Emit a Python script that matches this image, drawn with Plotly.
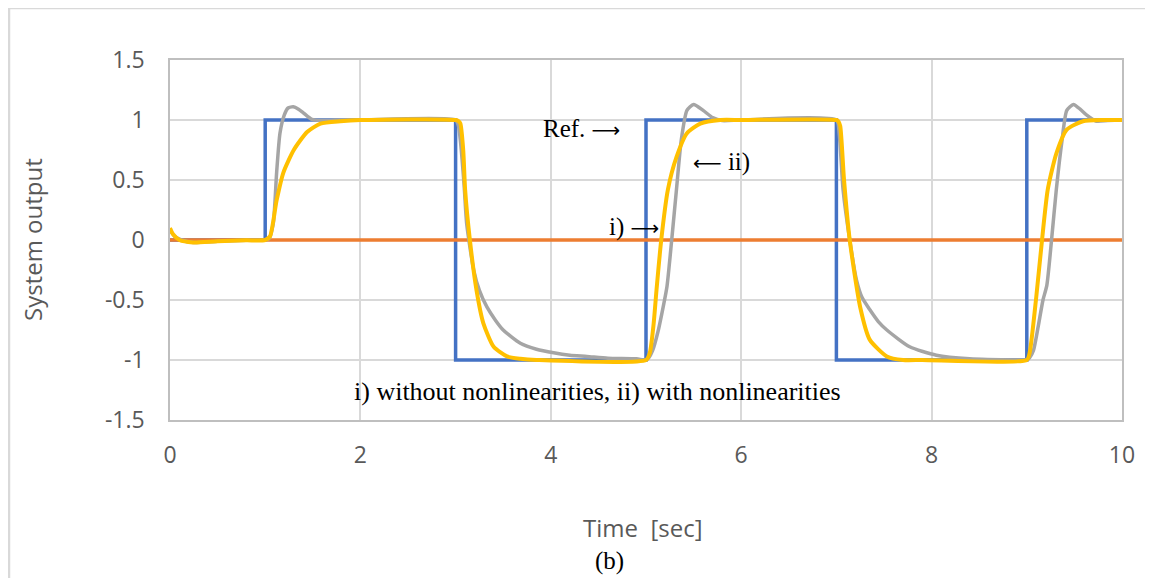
import plotly.graph_objects as go

# Reference square wave
t_ref = [0, 1, 1, 3, 3, 5, 5, 7, 7, 9, 9, 10]
y_ref = [0, 0, 1, 1, -1, -1, 1, 1, -1, -1, 1, 1]

# i) without nonlinearities
t_lin = [0, 10]
y_lin = [0, 0]

# gray response
t_gray = [0, 0.05, 0.12, 0.25, 0.5, 0.8, 1.0, 1.04, 1.085, 1.12, 1.155, 1.2, 1.24, 1.295, 1.35, 1.40, 1.49, 1.6, 1.8, 2.0,
          3.0, 3.03, 3.05, 3.09, 3.116, 3.19, 3.25, 3.33, 3.42, 3.50, 3.68, 3.85, 4.03, 4.2, 4.38, 4.6, 4.9, 5.0,
          5.03, 5.07, 5.13, 5.18, 5.22, 5.27, 5.32, 5.37, 5.43, 5.50, 5.60, 5.70, 5.8, 6.0,
          7.0, 7.03, 7.07, 7.14, 7.21, 7.27, 7.35, 7.44, 7.53, 7.77, 8.05, 8.40, 8.93, 9.0,
          9.03, 9.07, 9.12, 9.17, 9.21, 9.26, 9.31, 9.37, 9.42, 9.49, 9.56, 9.63, 9.73, 9.85, 10.0]
y_gray = [0.08, 0.03, 0.0, -0.02, -0.01, -0.003, 0.0, 0.01, 0.14, 0.56, 0.89, 1.04, 1.10, 1.11, 1.09, 1.06, 1.005, 0.995, 1.0, 1.0,
          1.0, 0.95, 0.83, 0.45, 0.14, -0.25, -0.42, -0.56, -0.67, -0.75, -0.86, -0.91, -0.94, -0.96, -0.97, -0.985, -0.99, -1.0,
          -0.98, -0.92, -0.75, -0.56, -0.39, 0.0, 0.42, 0.83, 1.08, 1.13, 1.08, 1.02, 0.995, 1.0,
          1.0, 0.88, 0.42, 0.0, -0.33, -0.48, -0.58, -0.68, -0.75, -0.89, -0.96, -0.99, -1.0, -1.0,
          -0.98, -0.92, -0.72, -0.50, -0.38, 0.0, 0.42, 0.83, 1.08, 1.13, 1.09, 1.04, 0.99, 0.995, 1.0]

# yellow response
t_yel = [0, 0.03, 0.1, 0.24, 0.5, 0.8, 1.0, 1.05, 1.12, 1.19, 1.30, 1.44, 1.58, 1.79, 2.0,
         3.0, 3.03, 3.05, 3.08, 3.10, 3.15, 3.22, 3.29, 3.40, 3.54, 3.68, 3.85,
         5.0, 5.04, 5.08, 5.11, 5.16, 5.23, 5.32, 5.43, 5.57, 5.78, 6.0,
         7.0, 7.02, 7.04, 7.08, 7.14, 7.25, 7.35, 7.53, 7.70, 7.9,
         9.0, 9.03, 9.10, 9.16, 9.22, 9.31, 9.42, 9.59, 9.8, 10.0]
y_yel = [0.1, 0.05, 0.0, -0.02, -0.01, -0.003, 0.0, 0.03, 0.33, 0.56, 0.75, 0.9, 0.97, 0.99, 1.0,
         1.0, 0.99, 0.97, 0.75, 0.42, 0.0, -0.42, -0.69, -0.89, -0.97, -0.99, -1.0,
         -1.0, -0.94, -0.7, -0.42, 0.0, 0.42, 0.69, 0.89, 0.97, 1.0, 1.0,
         1.0, 0.99, 0.95, 0.5, 0.0, -0.56, -0.83, -0.97, -1.0, -1.0,
         -1.0, -0.94, -0.47, 0.0, 0.42, 0.72, 0.92, 0.99, 1.0, 1.0]

x_ticks = [0, 2, 4, 6, 8, 10]
y_ticks = [-1.5, -1, -0.5, 0, 0.5, 1, 1.5]
y_tick_text = ["-1.5", "-1", "-0.5", "0", "0.5", "1", "1.5"]

fig = go.Figure()
fig.add_trace(go.Scatter(x=t_ref, y=y_ref, mode="lines", line=dict(color="#4472C4", width=3.5)))
fig.add_trace(go.Scatter(x=t_lin, y=y_lin, mode="lines", line=dict(color="#ED7D31", width=3.5)))
fig.add_trace(go.Scatter(x=t_gray, y=y_gray, mode="lines", line=dict(color="#A5A5A5", width=3.5, shape="spline", smoothing=0.6)))
fig.add_trace(go.Scatter(x=t_yel, y=y_yel, mode="lines", line=dict(color="#FFC000", width=4, shape="spline", smoothing=0.6)))

sans = "Open Sans, Noto Sans, sans-serif"
tick_font = dict(family=sans, size=23, color="#595959")
L, T, PW, PH = 162, 52, 952, 360
fig.update_layout(
    width=1153, height=578,
    margin=dict(l=L, r=1153 - L - PW, t=T, b=578 - T - PH),
    paper_bgcolor="white", plot_bgcolor="white",
    showlegend=False,
    xaxis=dict(range=[0, 10], tickvals=x_ticks, showgrid=True, gridcolor="#D9D9D9", gridwidth=1.5,
               zeroline=False, showline=True, linecolor="#BFBFBF", linewidth=1.5, mirror=True,
               ticks="", tickfont=tick_font, ticklabelstandoff=14),
    yaxis=dict(range=[-1.5, 1.5], tickvals=y_ticks, ticktext=y_tick_text, showgrid=True, gridcolor="#D9D9D9", gridwidth=1.5,
               zeroline=False, showline=True, linecolor="#BFBFBF", linewidth=1.5, mirror=True,
               ticks="", tickfont=tick_font, ticklabelstandoff=19),
)

title_font = dict(family=sans, size=24, color="#595959")
fig.add_annotation(x=(635 - L) / PW, y=(T + PH - 519) / PH, text="Time  [sec]", showarrow=False,
                   xref="paper", yref="paper", font=title_font, xanchor="center", yanchor="middle")
fig.add_annotation(x=(24 - L) / PW, y=0.5, text="System output", showarrow=False, textangle=-90,
                   xref="paper", yref="paper", font=title_font, xanchor="center", yanchor="middle")

serif = dict(family="Liberation Serif, Times New Roman, serif", size=25, color="black")
serif_note = dict(family="Liberation Serif, Times New Roman, serif", size=26, color="black")
arrow_r = "<span style='font-family:DejaVu Sans;font-size:20px'>⟶</span>"
arrow_l = "<span style='font-family:DejaVu Sans;font-size:20px'>⟵</span>"
fig.add_annotation(x=4.32, y=0.93, text="Ref. " + arrow_r, showarrow=False, xref="x", yref="y", font=serif)
fig.add_annotation(x=5.79, y=0.65, text=arrow_l + " ii)", showarrow=False, xref="x", yref="y", font=serif)
fig.add_annotation(x=4.87, y=0.11, text="i) " + arrow_r, showarrow=False, xref="x", yref="y", font=serif)
fig.add_annotation(x=4.49, y=-1.264, text="i) without nonlinearities, ii) with nonlinearities", showarrow=False,
                   xref="x", yref="y", font=serif_note)
fig.add_annotation(x=(601 - L) / PW, y=(T + PH - 553) / PH, text="(b)", showarrow=False,
                   xref="paper", yref="paper", font=serif, xanchor="center", yanchor="middle")

fig.add_shape(type="rect", xref="paper", yref="paper", x0=(1 - L) / PW, y0=-0.8, x1=1.1, y1=(T + PH) / PH,
              line=dict(color="#D9D9D9", width=2.5), fillcolor="rgba(0,0,0,0)", layer="below")

fig.write_html("out.html")
